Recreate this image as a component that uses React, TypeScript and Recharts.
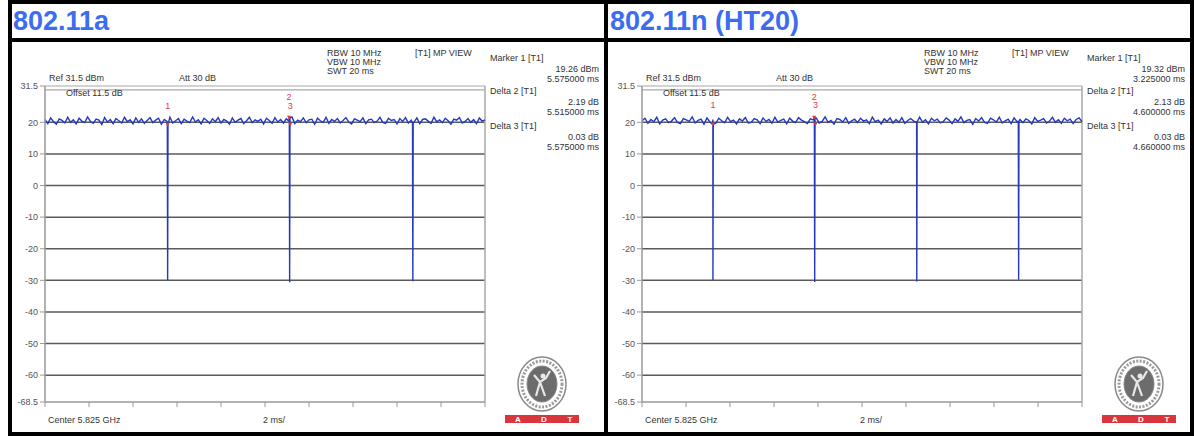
import React from 'react';
import { LineChart, Line, XAxis, YAxis, CartesianGrid, ReferenceLine, ReferenceDot } from 'recharts';

// amplitude axis (dBm) and sweep time axis (ms)
const yTicks = [31.5, 20, 10, 0, -10, -20, -30, -40, -50, -60, -68.5];
const gridLevels = [20, 10, 0, -10, -20, -30, -40, -50, -60];
const xTicks = [0, 2, 4, 6, 8, 10, 12, 14, 16, 18, 20];

// 802.11a zero-span sweep
const traceA = [
  20.9, 19.6, 21.4, 20.2, 19.4, 21.1, 20.6, 19.8, 21.6, 20.0, 20.8, 19.5, 21.3, 20.4, 19.9, 21.7,
  20.3, 19.7, 21.0, 20.7, 19.3, 21.5, 20.1, 20.9, 19.6, 21.2, 20.5, 19.8, 21.6, 20.2, 20.8, 19.5,
  21.4, 20.0, 21.1, 19.7, 20.6, 21.5, 19.9, 20.7, 21.3, 19.4, 20.9, 20.3, 21.6, 19.8, 20.5, 21.2,
  19.6, 21.0, 20.4, 19.9, 21.7, 20.1, 20.8, 19.5, 21.3, 20.6, 19.7, 21.1, 20.2, 21.5, 19.8, 20.9,
  20.4, 19.4, 21.4, 20.0, 20.7, 21.2, 19.6, 20.5, 21.6, 19.9, 20.8, 20.3, 21.0, 19.5, 21.3, 20.6,
  19.7, 21.5, 20.1, 20.9, 19.8, 21.1, 20.4, 21.7, 19.6, 20.7, 20.2, 21.4, 19.9, 20.8, 21.0, 19.4,
  21.3, 20.5, 20.0, 21.6, 19.7, 20.9, 20.3, 21.2, 19.8, 20.6, 21.5, 20.1, 19.5, 21.1, 20.7, 20.2,
  21.4, 19.6, 20.8, 21.0, 19.9, 20.4, 21.6, 20.0, 19.7, 21.3, 20.6, 20.9, 19.5, 21.2, 20.3, 21.5,
  19.8, 20.7, 20.1, 21.4, 19.6, 20.9, 21.1, 20.4, 19.7, 21.6, 20.2, 20.8, 19.9, 21.3, 20.5, 19.4,
  21.0, 20.7, 21.5, 19.8, 20.3, 21.2, 20.0, 20.9, 19.6, 21.4, 20.4, 20.8,
];
const dipsA = [
  { t: 5.575, top: 19.26, low: -30 },
  { t: 11.12, top: 21.45, low: -30.6 },
  { t: 16.72, top: 19.8, low: -30.3 },
];
const markersA = [
  { n: '1', t: 5.575, v: 19.26 },
  { n: '2', t: 11.09, v: 21.45 },
  { n: '3', t: 11.15, v: 19.29 },
];
const readoutA = [
  ['Marker 1 [T1]', '19.26 dBm', '5.575000 ms'],
  ['Delta 2 [T1]', '2.19 dB', '5.515000 ms'],
  ['Delta 3 [T1]', '0.03 dB', '5.575000 ms'],
];

// 802.11n HT20 zero-span sweep
const traceB = [
  20.5, 21.3, 19.7, 20.9, 20.2, 21.6, 19.5, 20.7, 21.1, 19.9, 20.4, 21.5, 20.0, 19.6, 21.2, 20.8,
  20.3, 21.7, 19.8, 20.6, 21.0, 19.4, 21.4, 20.1, 20.9, 19.7, 21.3, 20.5, 19.9, 21.6, 20.2, 20.7,
  19.5, 21.1, 20.4, 21.5, 19.8, 20.0, 21.2, 20.8, 19.6, 21.4, 20.3, 20.9, 19.7, 21.6, 20.1, 20.6,
  21.0, 19.5, 21.3, 20.4, 19.9, 21.5, 20.7, 20.2, 19.6, 21.1, 20.8, 21.4, 19.8, 20.3, 21.7, 20.0,
  20.6, 19.4, 21.2, 20.9, 20.1, 21.5, 19.7, 20.5, 21.0, 19.9, 21.3, 20.4, 20.8, 19.6, 21.6, 20.2,
  20.7, 19.5, 21.1, 20.3, 21.4, 19.8, 20.9, 20.0, 21.5, 19.7, 20.6, 21.2, 20.4, 19.9, 21.6, 20.1,
  20.8, 19.5, 21.3, 20.5, 21.0, 19.8, 20.2, 21.4, 20.7, 19.6, 21.1, 20.3, 21.7, 19.9, 20.6, 20.9,
  19.4, 21.2, 20.4, 21.5, 20.0, 19.7, 21.3, 20.8, 20.1, 21.6, 19.8, 20.5, 21.0, 19.6, 21.4, 20.2,
  20.9, 19.9, 21.1, 20.6, 19.5, 21.5, 20.3, 20.7, 21.2, 19.8, 20.4, 21.6, 20.0, 20.8, 19.7, 21.3,
  20.5, 21.0, 19.6, 20.9, 21.4, 20.2,
];
const dipsB = [
  { t: 3.225, top: 19.32, low: -30 },
  { t: 7.85, top: 21.45, low: -30.5 },
  { t: 12.49, top: 20.1, low: -30.4 },
  { t: 17.12, top: 20.3, low: -29.8 },
];
const markersB = [
  { n: '1', t: 3.225, v: 19.32 },
  { n: '2', t: 7.825, v: 21.45 },
  { n: '3', t: 7.885, v: 19.35 },
];
const readoutB = [
  ['Marker 1 [T1]', '19.32 dBm', '3.225000 ms'],
  ['Delta 2 [T1]', '2.13 dB', '4.600000 ms'],
  ['Delta 3 [T1]', '0.03 dB', '4.660000 ms'],
];

type Dip = { t: number; top: number; low: number };
type Mark = { n: string; t: number; v: number };

const buildTrace = (noise: number[], dips: Dip[]) => {
  const pts = noise.map((v, i) => ({ t: (i * 20) / (noise.length - 1), v }));
  dips.forEach((d) => {
    pts.push({ t: d.t - 0.015, v: d.top }, { t: d.t, v: d.low }, { t: d.t + 0.015, v: d.top });
  });
  return pts.sort((a, b) => a.t - b.t);
};

const FONT = '"Liberation Sans", Arial, sans-serif';
const PL = 33; // plot left inside panel
const PT = 44; // plot top inside panel
const PW = 440;
const PH = 316;
const H = 390;

const MarkerLabel = (props: any) => {
  const { cx, cy, n, level } = props;
  if (cx == null || cy == null) return null;
  return (
    <g>
      <path d={`M${cx - 2},${cy - 2} L${cx + 2},${cy - 2} L${cx},${cy + 2} Z`} fill="#e23a3a" />
      <text x={cx} y={cy - 16 - level * 2} textAnchor="middle" fontSize={9} fontFamily={FONT} fill="#e23a3a">
        {n}
      </text>
    </g>
  );
};

const Seal = ({ cx, cy }: { cx: number; cy: number }) => (
  <g>
    <ellipse cx={cx} cy={cy} rx={24} ry={27} fill="#fff" stroke="#8a8a8a" strokeWidth={1.5} />
    <ellipse cx={cx} cy={cy} rx={20} ry={23} fill="none" stroke="#9a9a9a" strokeWidth={3} strokeDasharray="2 1.5" />
    <ellipse cx={cx} cy={cy} rx={15} ry={18} fill="#6c6c6c" stroke="#888" />
    <path
      d={`M${cx - 6},${cy + 12} L${cx - 2},${cy - 2} L${cx - 8},${cy - 9} M${cx - 2},${cy - 2} L${cx + 4},${cy - 6} L${cx + 8},${cy - 13} M${cx - 2},${cy - 2} L${cx + 3},${cy + 12}`}
      stroke="#e8e8e8"
      strokeWidth={2.2}
      fill="none"
    />
    <circle cx={cx + 1} cy={cy - 8} r={2.5} fill="#e8e8e8" />
    <rect x={cx - 37} y={cy + 31} width={74} height={8} fill="#d8363c" />
    {['A', 'D', 'T'].map((c, i) => (
      <text key={c} x={cx - 24 + i * 26} y={cy + 38} textAnchor="middle" fontSize={8} fontWeight="bold" fontFamily={FONT} fill="#fff">
        {c}
      </text>
    ))}
  </g>
);

type PanelProps = {
  left: number;
  width: number;
  trace: number[];
  dips: Dip[];
  markers: Mark[];
  readout: string[][];
};

const Panel = ({ left, width, trace, dips, markers, readout }: PanelProps) => {
  const data = buildTrace(trace, dips);
  const txt = { fontSize: 9, fontFamily: FONT, fill: '#333' };
  const rx = width - 5;
  const heads = [19, 52, 87];
  return (
    <div style={{ position: 'absolute', left, top: 42, width, height: H }}>
      <LineChart width={width} height={H} data={data} margin={{ top: PT, left: 0, right: width - PL - PW, bottom: 0 }}>
        <CartesianGrid vertical={false} horizontalValues={gridLevels} stroke="#5a5a5a" strokeWidth={1.5} />
        <XAxis
          dataKey="t"
          type="number"
          domain={[0, 20]}
          ticks={xTicks}
          tickFormatter={() => ''}
          height={H - PT - PH}
          tickSize={5}
          stroke="#999"
          axisLine={{ stroke: '#999', strokeWidth: 1.5 }}
        />
        <YAxis
          type="number"
          domain={[-68.5, 31.5]}
          ticks={yTicks}
          interval={0}
          width={PL}
          tickSize={5}
          tickMargin={2}
          stroke="#999"
          axisLine={{ stroke: '#999', strokeWidth: 1.5 }}
          tick={{ fontSize: 9, fontFamily: FONT, fill: '#555' }}
        />
        <ReferenceLine y={31.5} stroke="#a8a8a8" strokeWidth={1.2} />
        <ReferenceLine y={30.3} stroke="#a8a8a8" strokeWidth={1.2} />
        <ReferenceLine x={20} stroke="#a8a8a8" strokeWidth={1.5} />
        <Line
          dataKey="v"
          type="linear"
          stroke="#2439bd"
          strokeWidth={1.4}
          dot={false}
          isAnimationActive={false}
        />
        {markers.map((m, i) => {
          const level = markers.filter((o, j) => j > i && Math.abs(o.t - m.t) < 0.2).length;
          return (
            <ReferenceDot
              key={m.n}
              x={m.t}
              y={m.v}
              r={0}
              shape={(p: any) => <MarkerLabel {...p} n={m.n} level={level} />}
            />
          );
        })}
      </LineChart>
      <svg width={width} height={H} style={{ position: 'absolute', left: 0, top: 0, pointerEvents: 'none' }}>
        <text x={PL + 282} y={14} {...txt}>RBW 10 MHz</text>
        <text x={PL + 282} y={23} {...txt}>VBW 10 MHz</text>
        <text x={PL + 282} y={32} {...txt}>SWT 20 ms</text>
        <text x={PL + 370} y={14} {...txt}>[T1] MP VIEW</text>
        <text x={PL + 4} y={39} {...txt}>Ref 31.5 dBm</text>
        <text x={PL + 134} y={39} {...txt}>Att  30 dB</text>
        <text x={PL + 21} y={54} {...txt}>Offset 11.5 dB</text>
        {readout.map((r, i) => (
          <g key={r[0]}>
            <text x={PL + 445} y={heads[i]} {...txt}>{r[0]}</text>
            <text x={rx} y={heads[i] + 11} textAnchor="end" {...txt}>{r[1]}</text>
            <text x={rx} y={heads[i] + 21} textAnchor="end" {...txt}>{r[2]}</text>
          </g>
        ))}
        <text x={PL + 3} y={381} {...txt}>Center 5.825 GHz</text>
        <text x={PL + 218} y={381} {...txt}>2 ms/</text>
        <Seal cx={PL + 497} cy={342} />
      </svg>
    </div>
  );
};

const bar = (l: number, t: number, w: number, h: number): React.CSSProperties => ({
  position: 'absolute', left: l, top: t, width: w, height: h, background: '#000',
});

const titleStyle: React.CSSProperties = {
  position: 'absolute',
  top: 4,
  fontFamily: FONT,
  fontWeight: 'bold',
  fontSize: 27,
  lineHeight: '34px',
  color: '#3b6cf2',
  whiteSpace: 'nowrap',
};

export default function App() {
  return (
    <div style={{ position: 'absolute', left: 0, top: 0, width: 1194, height: 436, background: '#fff', overflow: 'hidden' }}>
      <div style={{ ...titleStyle, left: 13 }}>802.11a</div>
      <div style={{ ...titleStyle, left: 610 }}>802.11n (HT20)</div>
      <Panel left={12} width={592} trace={traceA} dips={dipsA} markers={markersA} readout={readoutA} />
      <Panel left={609} width={581} trace={traceB} dips={dipsB} markers={markersB} readout={readoutB} />
      <div style={bar(8, 0, 1186, 4)} />
      <div style={bar(8, 38, 1186, 4)} />
      <div style={bar(8, 432, 1186, 4)} />
      <div style={bar(8, 0, 4, 436)} />
      <div style={bar(604, 0, 4, 436)} />
      <div style={bar(1190, 0, 4, 436)} />
    </div>
  );
}
